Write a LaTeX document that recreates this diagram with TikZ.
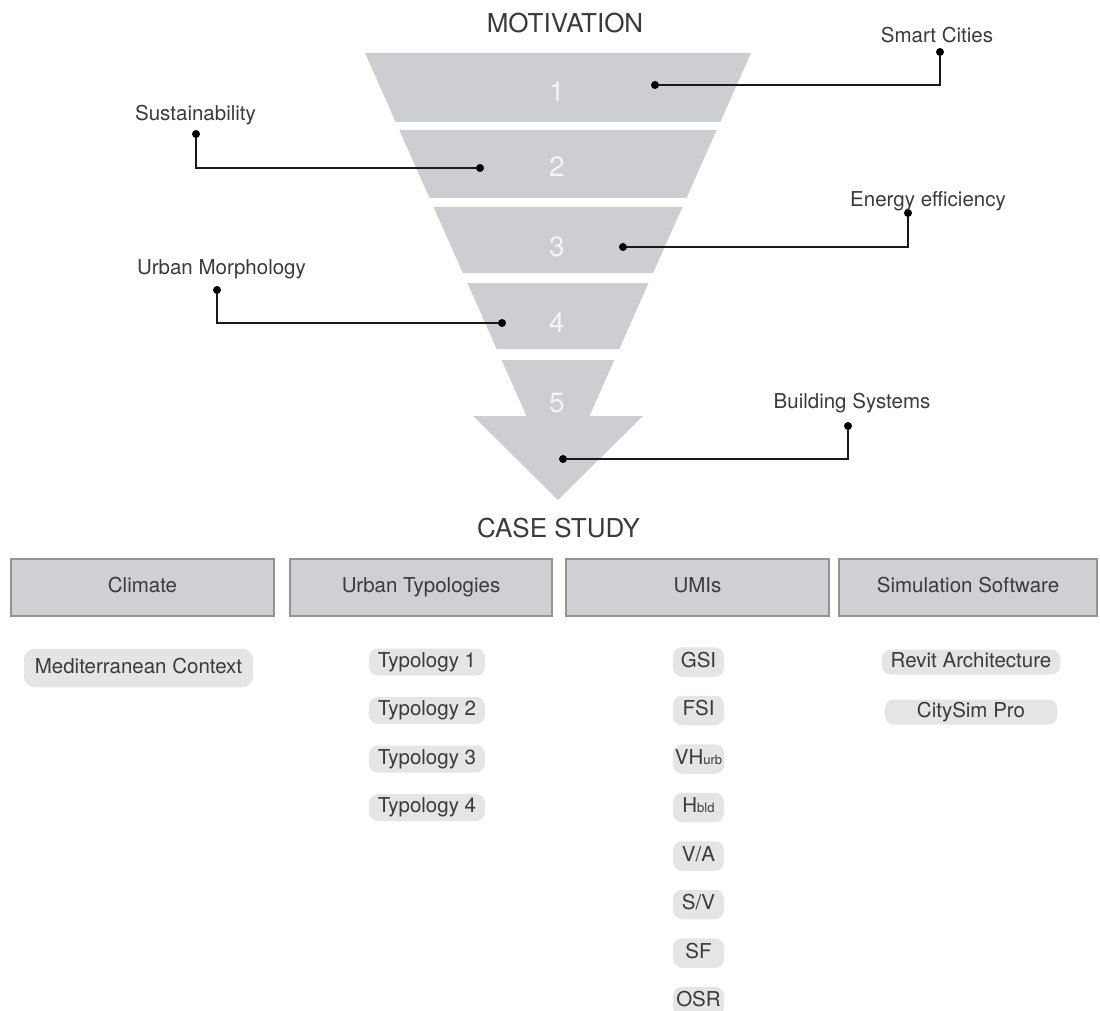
\documentclass[tikz,border=0pt]{standalone}
\usepackage{fontspec}
\setmainfont{TeX Gyre Heros}
\usepackage{tikz}
\definecolor{funnelgray}{RGB}{205,206,210}
\definecolor{boxgray}{RGB}{207,208,212}
\definecolor{boxline}{RGB}{148,148,151}
\definecolor{pillgray}{RGB}{229,229,232}
\definecolor{txtgray}{RGB}{58,58,60}
\definecolor{numwhite}{RGB}{244,244,246}
\newcommand{\umisub}[1]{{\fontsize{13}{13}\selectfont #1}}
\tikzstyle{tag} = [draw=none, anchor=base, inner sep=0pt, text=txtgray, font=\fontsize{20.5}{24}\selectfont]
\tikzstyle{title} = [draw=none, anchor=base, inner sep=0pt, text=txtgray, font=\fontsize{26}{30}\selectfont]
\tikzstyle{num} = [draw=none, anchor=base, inner sep=0pt, text=numwhite, font=\fontsize{28}{32}\selectfont]
\tikzstyle{dot} = [circle, fill=black, inner sep=0pt, minimum size=8pt]
\tikzstyle{link} = [draw=black!90, line width=2pt]
\tikzstyle{header} = [draw=boxline, line width=2pt, fill=boxgray, minimum height=57pt, inner sep=0pt, text height=15pt, text depth=4.5pt, text=txtgray, font=\fontsize{20.5}{24}\selectfont]
\tikzstyle{pill} = [fill=pillgray, rounded corners=9pt, inner xsep=9pt, inner ysep=3.75pt, text height=15pt, text depth=4.5pt, text=txtgray, font=\fontsize{20.5}{24}\selectfont]
\tikzstyle{umi} = [pill, minimum width=51pt, inner xsep=2pt, inner ysep=5pt]
\tikzstyle{soft} = [pill, minimum width=172pt, inner ysep=2.75pt]

\begin{document}
\begin{tikzpicture}[x=1pt, y=-1pt]
		\useasboundingbox (0,0) rectangle (1100,1011);
		
		% funnel
		\fill[funnelgray] (365,53) -- (751,53) -- (720.3,122) -- (395.7,122) -- cycle;
		\fill[funnelgray] (399.3,130) -- (716.7,130) -- (686.5,198) -- (429.5,198) -- cycle;
		\fill[funnelgray] (433.5,207) -- (682.5,207) -- (653.1,273) -- (462.9,273) -- cycle;
		\fill[funnelgray] (467.4,283) -- (648.6,283) -- (619.3,349) -- (496.7,349) -- cycle;
		\fill[funnelgray] (501.6,360) -- (614.4,360) -- (589.5,416) -- (643,416) -- (558,500) -- (473,416) -- (526.5,416) -- cycle;
		
		\node[num] (n1) at (557,102) {1};
		\node[num] (n2) at (557,177) {2};
		\node[num] (n3) at (557,256) {3};
		\node[num] (n4) at (557,332) {4};
		\node[num] (n5) at (557,412) {5};
		
		\node[title] (motivation) at (565,33) {MOTIVATION};
		\node[title] (casestudy) at (558.5,537) {CASE STUDY};
		
		% callouts
		\node[dot] (d1) at (655,85) {};
		\node[dot] (e1) at (940,52) {};
		\node[tag] (smart) at (937,43) {Smart Cities};
		\draw[link] (d1) -| (e1);
		
		\node[dot] (d2) at (480,168) {};
		\node[dot] (e2) at (196,134) {};
		\node[tag] (sustain) at (195.5,121) {Sustainability};
		\draw[link] (d2) -| (e2);
		
		\node[dot] (d3) at (623,247) {};
		\node[dot] (e3) at (908,213) {};
		\node[tag] (energy) at (928,207) {Energy efficiency};
		\draw[link] (d3) -| (e3);
		
		\node[dot] (d4) at (502,323) {};
		\node[dot] (e4) at (217,290) {};
		\node[tag] (morph) at (221.5,274) {Urban Morphology};
		\draw[link] (d4) -| (e4);
		
		\node[dot] (d5) at (563,459) {};
		\node[dot] (e5) at (848,426) {};
		\node[tag] (systems) at (852,408) {Building Systems};
		\draw[link] (d5) -| (e5);
		
		% case study columns
		\node[header, minimum width=263pt] (climate) at (142.5,587.5) {Climate};
		\node[header, minimum width=262pt] (typologies) at (421,587.5) {Urban Typologies};
		\node[header, minimum width=263pt] (umis) at (697.5,587.5) {UMIs};
		\node[header, minimum width=258pt] (software) at (968,587.5) {Simulation Software};
		
		\node[pill, inner xsep=11pt, inner ysep=9.5pt, rounded corners=11pt] (medit) at (138.5,668) {Mediterranean Context};
		
		\node[pill] (typ1) at (427,662) {Typology 1};
		\node[pill] (typ2) at (427,710.5) {Typology 2};
		\node[pill] (typ3) at (427,759) {Typology 3};
		\node[pill] (typ4) at (427,807.5) {Typology 4};
		
		\node[umi] (gsi) at (698.5,662) {GSI};
		\node[umi] (fsi) at (698.5,710.5) {FSI};
		\node[umi] (vhurb) at (698.5,759) {VH\umisub{urb}};
		\node[umi] (hbld) at (698.5,807.5) {H\umisub{bld}};
		\node[umi] (va) at (698.5,856) {V/A};
		\node[umi] (sv) at (698.5,904.5) {S/V};
		\node[umi] (sf) at (698.5,953) {SF};
		\node[umi] (osr) at (698.5,1001.5) {OSR};
		
		\node[soft] (revit) at (971,662) {Revit Architecture};
		\node[soft] (citysim) at (971,712) {CitySim Pro};
	\end{tikzpicture}
\end{document}
